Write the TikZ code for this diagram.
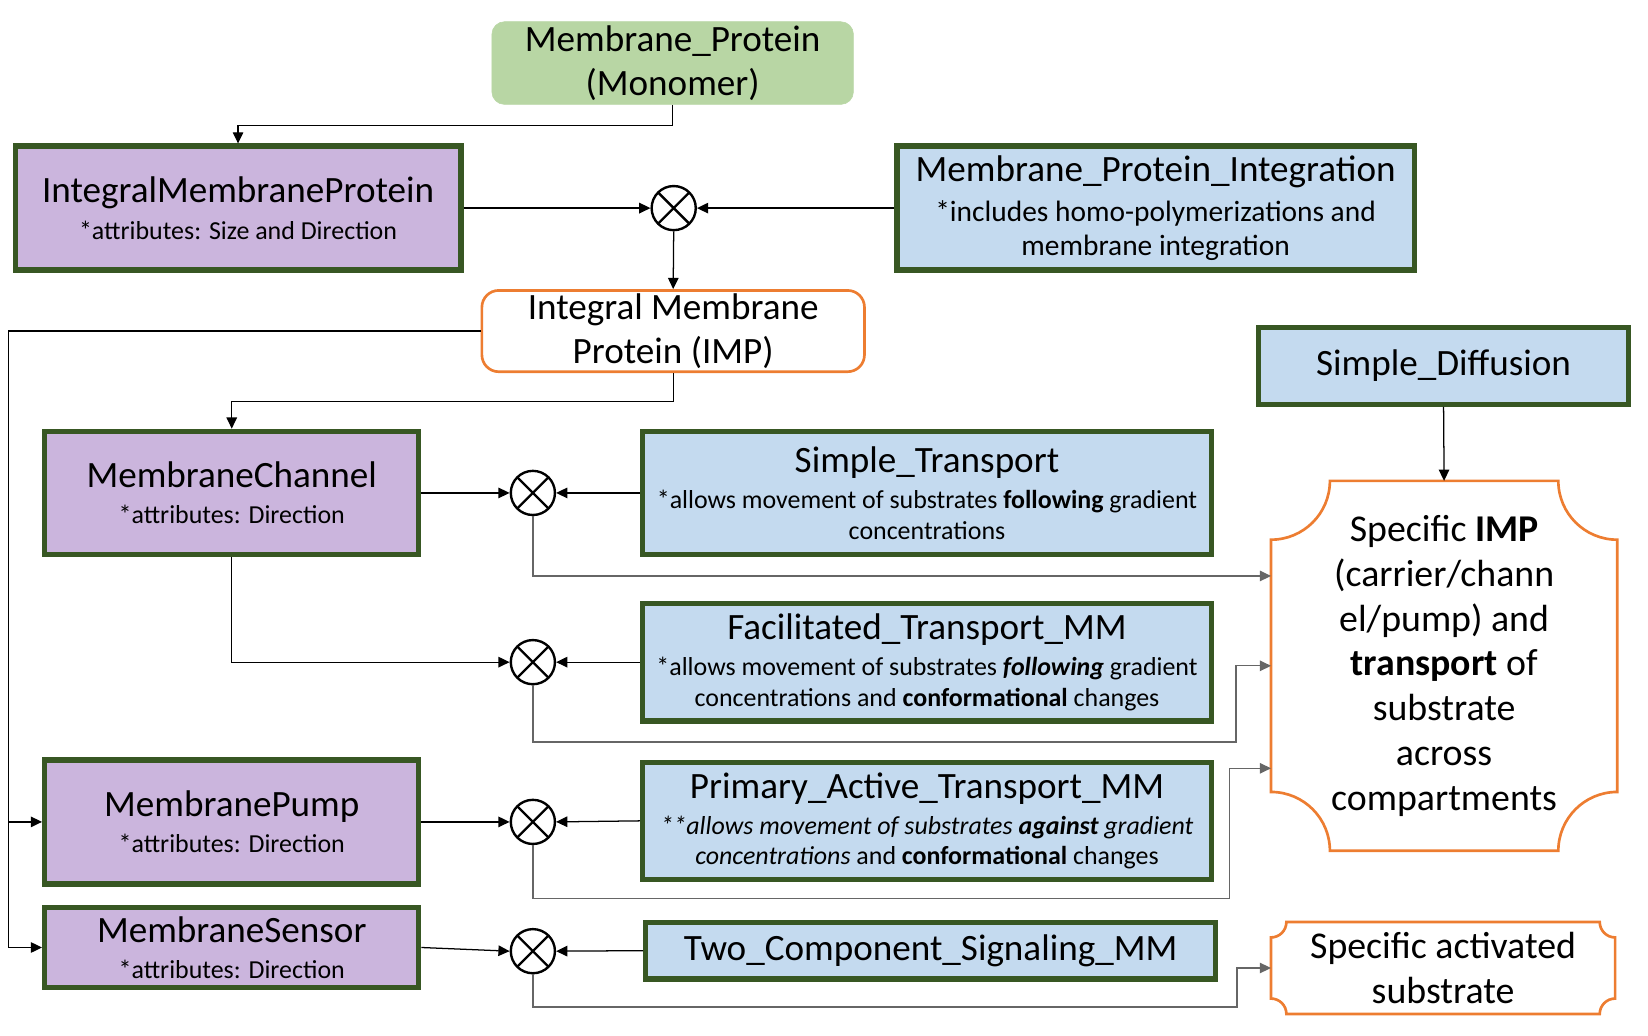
\documentclass[tikz,border=0pt]{standalone}
\usepackage{fontspec}
\setmainfont{Carlito}
\usetikzlibrary{arrows.meta, positioning}

\definecolor{monogreen}{RGB}{184,214,164}
\definecolor{edgegreen}{RGB}{56,87,35}
\definecolor{classpurple}{RGB}{203,181,221}
\definecolor{mmblue}{RGB}{196,218,239}
\definecolor{outorange}{RGB}{237,125,49}

\newcommand{\attr}[1]{{\fontsize{18.5}{21.75}\selectfont #1}}
% orange box with cut-in corners: node name, corner radius
\newcommand{\plaque}[2]{%
  \draw[orangeedge] ([xshift=#2]#1.north west) -- ([xshift=-#2]#1.north east)
    arc[start angle=180, end angle=270, radius=#2] -- ([yshift=#2]#1.south east)
    arc[start angle=90, end angle=180, radius=#2] -- ([xshift=#2]#1.south west)
    arc[start angle=0, end angle=90, radius=#2] -- ([yshift=-#2]#1.north west)
    arc[start angle=270, end angle=360, radius=#2] -- cycle;}

\begin{document}
\begin{tikzpicture}[x=0.75pt, y=-0.75pt,
    classbox/.style={rectangle, draw=edgegreen, line width=3.75pt, fill=classpurple, align=center, inner sep=0pt, font=\fontsize{26.5}{31.5}\selectfont}, % purple classes
    mmbox/.style={classbox, fill=mmblue}, % blue mechanisms
    monobox/.style={rectangle, rounded corners=9pt, draw=monogreen, fill=monogreen, align=center, inner sep=0pt, font=\fontsize{26.5}{31.5}\selectfont},
    outbox/.style={rectangle, rounded corners=12pt, draw=outorange, line width=1.9pt, fill=white, align=center, inner sep=0pt, font=\fontsize{26.5}{31.5}\selectfont},
    plaquebox/.style={rectangle, draw=none, outer sep=0pt, align=center, inner sep=0pt, font=\fontsize{27}{32}\selectfont},
    orangeedge/.style={draw=outorange, line width=1.9pt},
    mult/.style={circle, draw, line width=1.7pt, minimum size=31.5pt, inner sep=0pt, fill=white,
      path picture={\draw[line width=1.7pt] (path picture bounding box.north west) -- (path picture bounding box.south east)
        (path picture bounding box.north east) -- (path picture bounding box.south west);}}, % multiplication junction
    conn/.style={-{Triangle[length=8pt, width=7.5pt]}, line width=0.9pt},
    feed/.style={conn, draw=black!60}
    ]
\useasboundingbox (0,0) rectangle (1568,985);

% top row
\node[monobox, minimum width=258pt, minimum height=59pt] (mono) at (640,60) {Membrane\_Protein\\(Monomer)};
\node[classbox, minimum width=318pt, minimum height=88.5pt] (intM) at (226.5,198) {IntegralMembraneProtein\\[-5.5pt]\attr{*attributes: Size and Direction}};
\node[mmbox, minimum width=369pt, minimum height=88.5pt] (integ) at (1099.5,198) {Membrane\_Protein\_Integration\\[-3pt]{\fontsize{21}{24.75}\selectfont *includes homo-polymerizations and}\\[-7pt]{\fontsize{21}{24.75}\selectfont membrane integration}};
\node[mult] (x1) at (641,198) {};
\node[outbox, minimum width=273pt, minimum height=58pt] (impN) at (640.5,315) {Integral Membrane\\Protein (IMP)};
\node[mmbox, minimum width=264pt, minimum height=55pt] (diff) at (1373.5,348) {Simple\_Diffusion};

% classes and mechanisms
\node[classbox, minimum width=267pt, minimum height=88pt] (chan) at (220.5,469) {MembraneChannel\\[-5.5pt]\attr{*attributes: Direction}};
\node[mmbox, minimum width=406pt, minimum height=88pt] (simpT) at (882,469) {Simple\_Transport\\[-5.5pt]\attr{*allows movement of substrates \textbf{following} gradient}\\[-9.75pt]\attr{concentrations}};
\node[mult] (x2) at (507,469) {};

\node[mmbox, minimum width=406pt, minimum height=84pt] (facT) at (882,630) {Facilitated\_Transport\_MM\\[-5.5pt]\attr{*allows movement of substrates \textbf{\textit{following}} gradient}\\[-9.75pt]\attr{concentrations and \textbf{conformational} changes}};
\node[mult] (x3) at (507,630) {};

\node[classbox, minimum width=267pt, minimum height=88.5pt] (pump) at (220.5,782) {MembranePump\\[-5.5pt]\attr{*attributes: Direction}};
\node[mmbox, minimum width=406pt, minimum height=83.25pt] (primT) at (882,781) {Primary\_Active\_Transport\_MM\\[-5.5pt]\attr{\textit{**allows movement of substrates \textbf{against} gradient}}\\[-9.75pt]\attr{\textit{concentrations} and \textbf{conformational} changes}};
\node[mult] (x4) at (507,782) {};

\node[classbox, minimum width=267pt, minimum height=57pt] (sensor) at (220.5,901.5) {MembraneSensor\\[-5.5pt]\attr{*attributes: Direction}};
\node[mmbox, minimum width=406.5pt, minimum height=40.5pt] (twoC) at (885.5,904.5) {Two\_Component\_Signaling\_MM};
\node[mult] (x5) at (507,905) {};

% outcomes
\node[plaquebox, minimum width=247pt, minimum height=264pt] (spec) at (1374,633.5) {Specific \textbf{IMP}\\(carrier/chann\\el/pump) and\\\textbf{transport} of\\substrate\\across\\compartments};
\plaque{spec}{42pt}
\node[plaquebox, minimum width=245.6pt, minimum height=65.6pt] (act) at (1373,921) {Specific activated\\substrate};
\plaque{act}{11pt}

% bend points
\coordinate (spine) at (8,901.5);
\coordinate (bendA) at (507,548);
\coordinate (bendB) at (1176,706);
\coordinate (bendC) at (1170,855);
\coordinate (bendD) at (1177,958);

% connectors
\draw[conn] (mono.south) -- ++(0,20) -| (intM.north);
\draw[conn] (intM.east) -- (x1.west);
\draw[conn] (integ.west) -- (x1.east);
\draw[conn] (x1.south) -- (impN.north);
\draw[conn] (impN.south) -- ++(0,27) -| (chan.north);
\draw[conn] (impN.west) -| (spine) -- (sensor.west);
\draw[conn] (spine |- pump.west) -- (pump.west);
\draw[conn] (diff.south) -- (spec.north);

\draw[conn] (chan.east) -- (x2.west);
\draw[conn] (simpT.west) -- (x2.east);
\draw[feed] (x2.south) -- (bendA) -- (bendA -| spec.west);

\draw[conn] (chan.south) |- (x3.west);
\draw[conn] (facT.west) -- (x3.east);
\draw[feed] (x3.south) |- (bendB) |- (spec.west);

\draw[conn] (pump.east) -- (x4.west);
\draw[conn] (primT.west) -- (x4.east);
\draw[feed] (x4.south) |- (bendC) |- (spec.west |- 0,731);

\draw[conn] (sensor.east) -- (x5.west);
\draw[conn] (twoC.west) -- (x5.east);
\draw[feed] (x5.south) |- (bendD) |- (act.west);
\end{tikzpicture}
\end{document}
